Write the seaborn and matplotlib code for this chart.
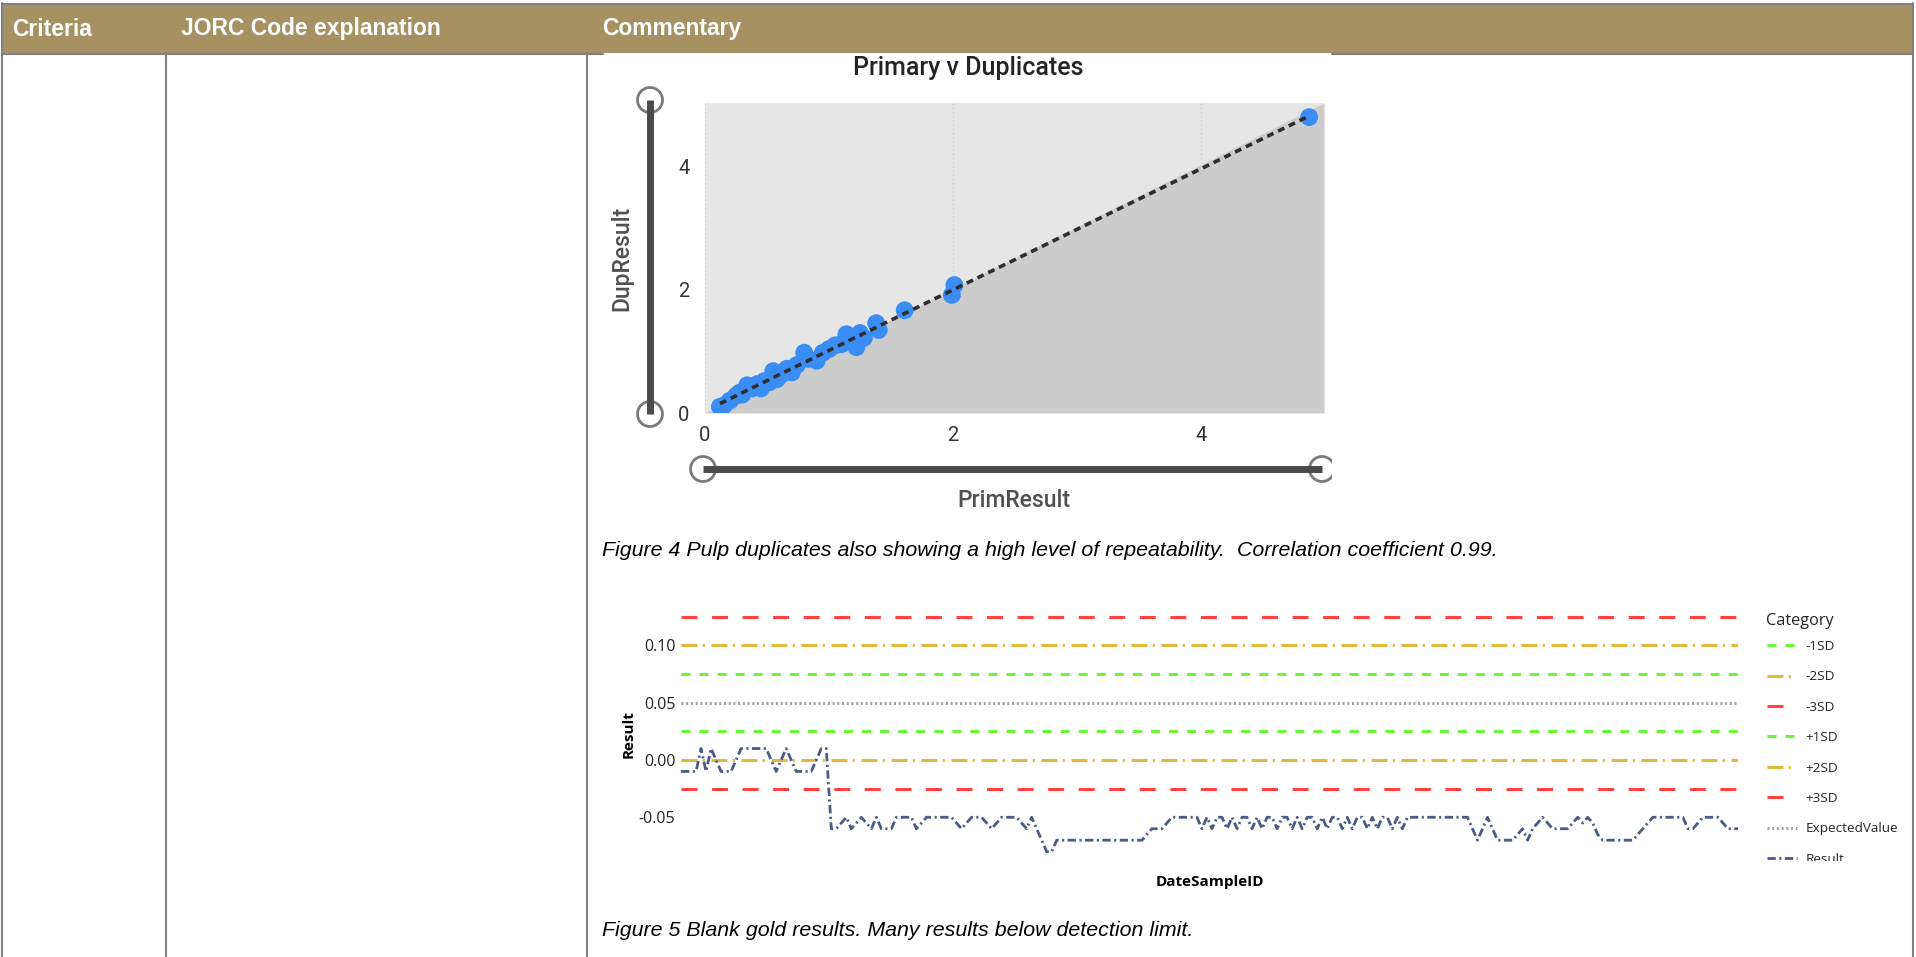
import matplotlib
matplotlib.use("Agg")
import matplotlib.pyplot as plt
import seaborn as sns
import pandas as pd
import numpy as np
from matplotlib.patches import Rectangle, Circle

# ---- data ----
prim = [0.12, 0.15, 0.20, 0.25, 0.28, 0.30, 0.34, 0.38, 0.42, 0.45, 0.48, 0.52,
        0.55, 0.58, 0.62, 0.66, 0.70, 0.74, 0.80, 0.83, 0.90, 0.95, 1.00, 1.05,
        1.10, 1.14, 1.22, 1.25, 1.28, 1.38, 1.40, 1.61, 1.99, 2.01, 4.87]
dup = [0.10, 0.12, 0.20, 0.28, 0.33, 0.30, 0.45, 0.40, 0.47, 0.40, 0.52, 0.50,
       0.68, 0.55, 0.63, 0.72, 0.66, 0.78, 0.98, 0.88, 0.85, 0.98, 1.04, 1.10,
       1.12, 1.28, 1.07, 1.30, 1.22, 1.46, 1.35, 1.67, 1.92, 2.08, 4.81]
scatter_ticks = [0, 2, 4]

result = [
    -0.01, -0.01, -0.01, -0.01, 0.01, -0.01, 0.01, 0.0, -0.01, -0.01,
    -0.01, 0.0, 0.01, 0.01, 0.01, 0.01, 0.01, 0.01, 0.0, -0.01,
    0.0, 0.01, 0.0, -0.01, -0.01, -0.01, -0.01, 0.0, 0.01, 0.01,
    -0.06, -0.06, -0.055, -0.05, -0.06, -0.055, -0.05, -0.055, -0.06, -0.05,
    -0.06, -0.06, -0.06, -0.05, -0.05, -0.05, -0.05, -0.06, -0.055, -0.05,
    -0.05, -0.05, -0.05, -0.05, -0.05, -0.055, -0.06, -0.055, -0.05, -0.05,
    -0.05, -0.055, -0.06, -0.055, -0.05, -0.05, -0.05, -0.05, -0.055, -0.06,
    -0.05, -0.06, -0.07, -0.08, -0.08, -0.07, -0.07, -0.07, -0.07, -0.07,
    -0.07, -0.07, -0.07, -0.07, -0.07, -0.07, -0.07, -0.07, -0.07, -0.07,
    -0.07, -0.07, -0.07, -0.065, -0.06, -0.06, -0.06, -0.055, -0.05, -0.05,
    -0.05, -0.05, -0.05, -0.05, -0.06, -0.05, -0.06, -0.05, -0.05, -0.06,
    -0.05, -0.06, -0.05, -0.05, -0.06, -0.05, -0.06, -0.05, -0.05, -0.06,
    -0.05, -0.05, -0.06, -0.05, -0.06, -0.05, -0.05, -0.06, -0.05, -0.06,
    -0.05, -0.05, -0.06, -0.05, -0.06, -0.05, -0.05, -0.06, -0.05, -0.06,
    -0.05, -0.05, -0.06, -0.05, -0.06, -0.05, -0.05, -0.05, -0.05, -0.05,
    -0.05, -0.05, -0.05, -0.05, -0.05, -0.05, -0.05, -0.05, -0.06, -0.07,
    -0.06, -0.05, -0.06, -0.07, -0.07, -0.07, -0.07, -0.065, -0.06, -0.07,
    -0.06, -0.055, -0.05, -0.055, -0.06, -0.06, -0.06, -0.06, -0.055, -0.05,
    -0.055, -0.05, -0.055, -0.065, -0.07, -0.07, -0.07, -0.07, -0.07, -0.07,
    -0.07, -0.065, -0.06, -0.055, -0.05, -0.05, -0.05, -0.05, -0.05, -0.05,
    -0.05, -0.06, -0.06, -0.055, -0.05, -0.05, -0.05, -0.05, -0.055, -0.06,
    -0.06, -0.06,
]
category_labels = ["-1SD", "-2SD", "-3SD", "+1SD", "+2SD", "+3SD", "ExpectedValue"]
category_values = [0.025, 0.0, -0.025, 0.075, 0.10, 0.125, 0.05]
result_ticks = [-0.05, 0.0, 0.05, 0.10]

header_labels = ["Criteria", "JORC Code explanation", "Commentary"]
caption4 = ("Figure 4 Pulp duplicates also showing a high level of repeatability.  "
            "Correlation coefficient 0.99.")
caption5 = "Figure 5 Blank gold results. Many results below detection limit."

# ---- styles ----
cat_colors = ["#6CF53A", "#E2B83E", "#FF4343", "#6CF53A", "#E2B83E", "#FF4343", "#A0A0A0"]
dash_green = (0, (6.5, 6.5))
dash_gold = (0, (11.5, 3.8, 1.5, 4.8))
dash_red = (0, (11.5, 10.5))
dash_dot = (0, (1.4, 2.0))
cat_styles = [dash_green, dash_gold, dash_red, dash_green, dash_gold, dash_red, dash_dot]

sns.set_theme(style="white")
plt.rcParams["font.family"] = ["Roboto", "DejaVu Sans"]
plt.rcParams["lines.scale_dashes"] = False

W, H = 1916, 957
fig = plt.figure(figsize=(W / 100, H / 100), dpi=100)
fig.patch.set_facecolor("white")


def fbox(x0, y0, x1, y1):
    return [x0 / W, 1 - y1 / H, (x1 - x0) / W, (y1 - y0) / H]


# ---- scatter: Primary v Duplicates ----
ax1 = fig.add_axes(fbox(705, 103, 1324, 413))
xmax, ymax = 4.99, 5.04
ax1.set_facecolor("#E6E6E6")
ax1.fill_between([0, xmax], [0, 0], [0, ymax], color="#CCCCCC", lw=0, zorder=0)
for t in scatter_ticks:
    ax1.axvline(t, color="#CFCFCF", lw=1, ls=(0, (1, 2)), zorder=1)
sns.scatterplot(x=prim, y=dup, s=165, color="#3A8DF5", edgecolor="none",
                ax=ax1, zorder=3)
sns.regplot(x=prim, y=dup, scatter=False, ci=None, ax=ax1,
            line_kws=dict(color="#2E2E2E", lw=2.6, ls=(0, (5, 3.6)), zorder=4))
ax1.set_xlim(0, xmax)
ax1.set_ylim(0, ymax)
ax1.set_xticks(scatter_ticks)
ax1.set_yticks(scatter_ticks)
ax1.tick_params(labelsize=14.5, labelcolor="#333333", length=0)
ax1.tick_params(axis="y", pad=11)
ax1.tick_params(axis="x", pad=9)
for s in ax1.spines.values():
    s.set_visible(False)
ax1.set_xlabel("PrimResult", fontsize=16.5, color="#505050", fontweight="medium")
ax1.set_ylabel("DupResult", fontsize=16.5, color="#505050", fontweight="medium")
ax1.xaxis.set_label_coords(0.499, -0.245)
ax1.yaxis.set_label_coords(-0.115, 0.5)

# ---- line chart: blank gold results ----
ax2 = fig.add_axes(fbox(681, 611, 1738, 857.4))
df = pd.DataFrame({"DateSampleID": np.arange(len(result)), "Result": result})
handles = []
for lab, val, col, sty in zip(category_labels, category_values, cat_colors, cat_styles):
    h = ax2.axhline(val, color=col, lw=2.2, ls=sty, label=lab)
    handles.append(h)
sns.lineplot(data=df, x="DateSampleID", y="Result", ax=ax2, color="#4B5A87",
             lw=2, label="Result")
res_line = ax2.get_lines()[-1]
res_line.set_linestyle((0, (6, 2.5, 1.5, 2.5)))
handles.append(res_line)
ax2.set_xlim(0, len(result) - 1)
ax2.set_ylim(-0.085, 0.13)
ax2.set_yticks(result_ticks)
ax2.set_yticklabels(["%.2f" % v for v in result_ticks], family="Open Sans",
                    fontsize=11.5, color="#252423")
ax2.set_xticks([])
ax2.tick_params(length=0, pad=4)
for s in ax2.spines.values():
    s.set_visible(False)
ax2.set_facecolor("white")
ax2.set_xlabel("DateSampleID", family="Open Sans", fontweight="bold",
               fontsize=11, color="black")
ax2.set_ylabel("Result", family="Open Sans", fontweight="bold",
               fontsize=11, color="black")
ax2.xaxis.set_label_coords(0.5, -0.072)
ax2.yaxis.set_label_coords(-0.043, 0.5)
ax2.legend(handles=handles, labels=category_labels + ["Result"],
           loc="upper left", bbox_to_anchor=(1767 / W, 1 - 640 / H),
           bbox_transform=fig.transFigure, frameon=False,
           prop={"family": "Open Sans", "size": 9.7},
           handlelength=2.2, handletextpad=0.65, labelspacing=1.29,
           borderpad=0, borderaxespad=0)

# ---- document table and decorations (pixel coordinates) ----
ov = fig.add_axes([0, 0, 1, 1], zorder=10)
ov.set_xlim(0, W)
ov.set_ylim(H, 0)
ov.axis("off")
ov.patch.set_alpha(0)

line_col = "#808080"
ov.add_patch(Rectangle((2, 4), 1911, 49, fc="#A69162", ec="none"))
ov.plot([2, 1913], [3.5, 3.5], color=line_col, lw=1.5)
ov.plot([2, 603], [53.5, 53.5], color=line_col, lw=1.5)
ov.plot([1332, 1913], [53.5, 53.5], color=line_col, lw=1.5)
for x in [2.5, 1913]:
    ov.plot([x, x], [3, H], color=line_col, lw=1.5)
for x in [166, 587]:
    ov.plot([x, x], [53, H], color=line_col, lw=1.5)
for x, lab in zip([12, 181, 602], header_labels):
    ov.text(x, 29, lab, color="white", fontweight="bold", fontsize=16.5,
            family="Liberation Sans", va="center", ha="left")

# sliders around the scatter
bar_col = "#4A4A4A"
ov.plot([650, 650], [100, 414], color=bar_col, lw=5, solid_capstyle="butt")
ov.plot([703, 1322], [469, 469], color=bar_col, lw=5, solid_capstyle="butt")
clip = Rectangle((0, 0), 1332, H, transform=ov.transData)
for cx, cy in [(650, 100), (650, 414), (703, 469), (1322, 469)]:
    c = Circle((cx, cy), 12.5, fc="white", ec="#7A7A7A", lw=2)
    ov.add_patch(c)
    c.set_clip_path(clip)

ov.text(968, 68, "Primary v Duplicates", ha="center", va="center", fontsize=18,
        family="Roboto", fontweight="medium", color="#252423")

ov.text(1766, 621, "Category", family="Open Sans", fontsize=11.7,
        color="#252423", va="center", ha="left")

ov.text(602, 551, caption4, style="italic", family="Liberation Sans",
        fontsize=15.4, va="center", ha="left", color="black")
ov.text(602, 930, caption5, style="italic", family="Liberation Sans",
        fontsize=15.4, va="center", ha="left", color="black")

# chart image is cropped below the legend
ov.add_patch(Rectangle((1758, 861), 150, 14, fc="white", ec="none"))

fig.savefig("out.png", dpi=100, facecolor="white")
